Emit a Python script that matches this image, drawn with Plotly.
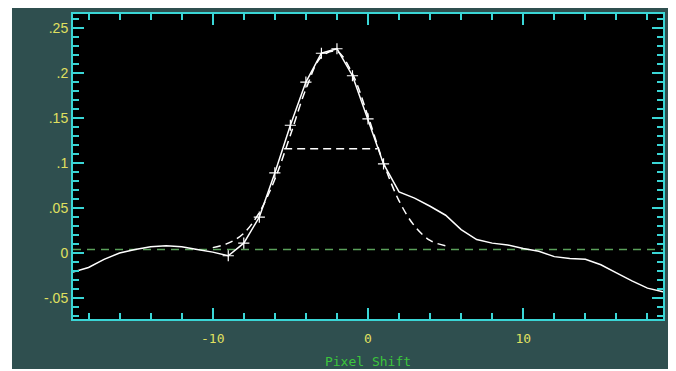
import plotly.graph_objects as go

# Solid cross-correlation curve
solid_x = [-19, -18, -17, -16, -15, -14, -13, -12, -11, -10, -9, -8, -7, -6, -5, -4, -3, -2, -1, 0, 1,
           2, 3, 4, 5, 6, 7, 8, 9, 10, 11, 12, 13, 14, 15, 16, 17, 18, 19]
solid_y = [-0.021, -0.016, -0.007, 0.000, 0.004, 0.007, 0.008, 0.007, 0.004, 0.001, -0.003, 0.011, 0.040,
           0.089, 0.142, 0.190, 0.222, 0.227, 0.197, 0.149, 0.099,
           0.068, 0.061, 0.052, 0.042, 0.026, 0.015, 0.011, 0.009, 0.005, 0.002, -0.004, -0.006, -0.007,
           -0.013, -0.022, -0.031, -0.039, -0.043]

# Points marked with "+"
marker_x = [-9, -8, -7, -6, -5, -4, -3, -2, -1, 0, 1]

# Dashed fit curve
fit_x = [-10, -9, -8, -7, -6, -5, -4, -3, -2, -1, 0, 1, 2, 3, 4, 5]
fit_y = [0.006, 0.011, 0.022, 0.045, 0.082, 0.131, 0.182, 0.218, 0.224, 0.199, 0.152, 0.100,
         0.058, 0.030, 0.014, 0.008]

# Half-maximum segment
half_x = [-5.4, 0.6]
half_y = [0.116, 0.116]

# Baseline
base_x = [-19, 19]
base_y = [0.004, 0.004]

ytick_vals = [-0.05, 0, 0.05, 0.1, 0.15, 0.2, 0.25]
ytick_text = ["-.05", "0", ".05", ".1", ".15", ".2", ".25"]
xtick_vals = [-10, 0, 10]
xtick_text = ["-10", "0", "10"]

CYAN = "#3ad6d6"
YELLOW = "#e0e060"
GREEN_TXT = "#3cc43c"

mk_y = [y for x, y in zip(solid_x, solid_y) if x in marker_x]

fig = go.Figure()
fig.add_trace(go.Scatter(x=base_x, y=base_y, mode="lines",
                         line=dict(color="#5aa05a", width=1.5, dash="8px,6px")))
fig.add_trace(go.Scatter(x=fit_x, y=fit_y, mode="lines", line_shape="spline",
                         line=dict(color="white", width=1.5, dash="8px,5px")))
fig.add_trace(go.Scatter(x=half_x, y=half_y, mode="lines",
                         line=dict(color="white", width=1.5, dash="8px,5px")))
fig.add_trace(go.Scatter(x=solid_x, y=solid_y, mode="lines",
                         line=dict(color="white", width=1.5)))
fig.add_trace(go.Scatter(x=marker_x, y=mk_y, mode="markers",
                         marker=dict(symbol="cross-thin", size=8,
                                     line=dict(color="white", width=1.2))))

fig.update_layout(
    width=660, height=361,
    margin=dict(l=65, r=5, t=6, b=50, autoexpand=False),
    paper_bgcolor="white",
    plot_bgcolor="black",
    showlegend=False,
    shapes=[dict(type="rect", xref="paper", yref="paper",
                 x0=-0.1034, x1=1.0085, y0=-0.164, y1=1.03,
                 fillcolor="#2f4f4f", line=dict(width=0), layer="below"),
            dict(type="rect", xref="paper", yref="paper",
                 x0=0, x1=1, y0=0, y1=1,
                 fillcolor="black", line=dict(width=0), layer="below")],
)

fig.update_xaxes(
    range=[-19, 19], showgrid=False, zeroline=False, automargin=False,
    showline=True, linecolor=CYAN, linewidth=2, mirror="ticks",
    ticks="inside", ticklen=11, tickwidth=2, tickcolor=CYAN,
    tickvals=xtick_vals, ticktext=xtick_text, ticklabelstandoff=6,
    tickfont=dict(family="DejaVu Sans Mono", size=13, color=YELLOW),
    minor=dict(dtick=2, tick0=0, ticks="inside", ticklen=6, tickwidth=2, tickcolor=CYAN, showgrid=False),
    title=dict(text="Pixel Shift", font=dict(family="DejaVu Sans Mono", size=13, color=GREEN_TXT),
               standoff=14),
)
fig.update_yaxes(
    range=[-0.0733, 0.2656], showgrid=False, zeroline=False, automargin=False,
    showline=True, linecolor=CYAN, linewidth=2, mirror="ticks",
    ticks="inside", ticklen=11, tickwidth=2, tickcolor=CYAN,
    tickvals=ytick_vals, ticktext=ytick_text,
    tickfont=dict(family="Liberation Sans", size=14, color=YELLOW),
    minor=dict(dtick=0.01, tick0=0, ticks="inside", ticklen=6, tickwidth=2, tickcolor=CYAN, showgrid=False),
)

fig.write_html("out.html")
